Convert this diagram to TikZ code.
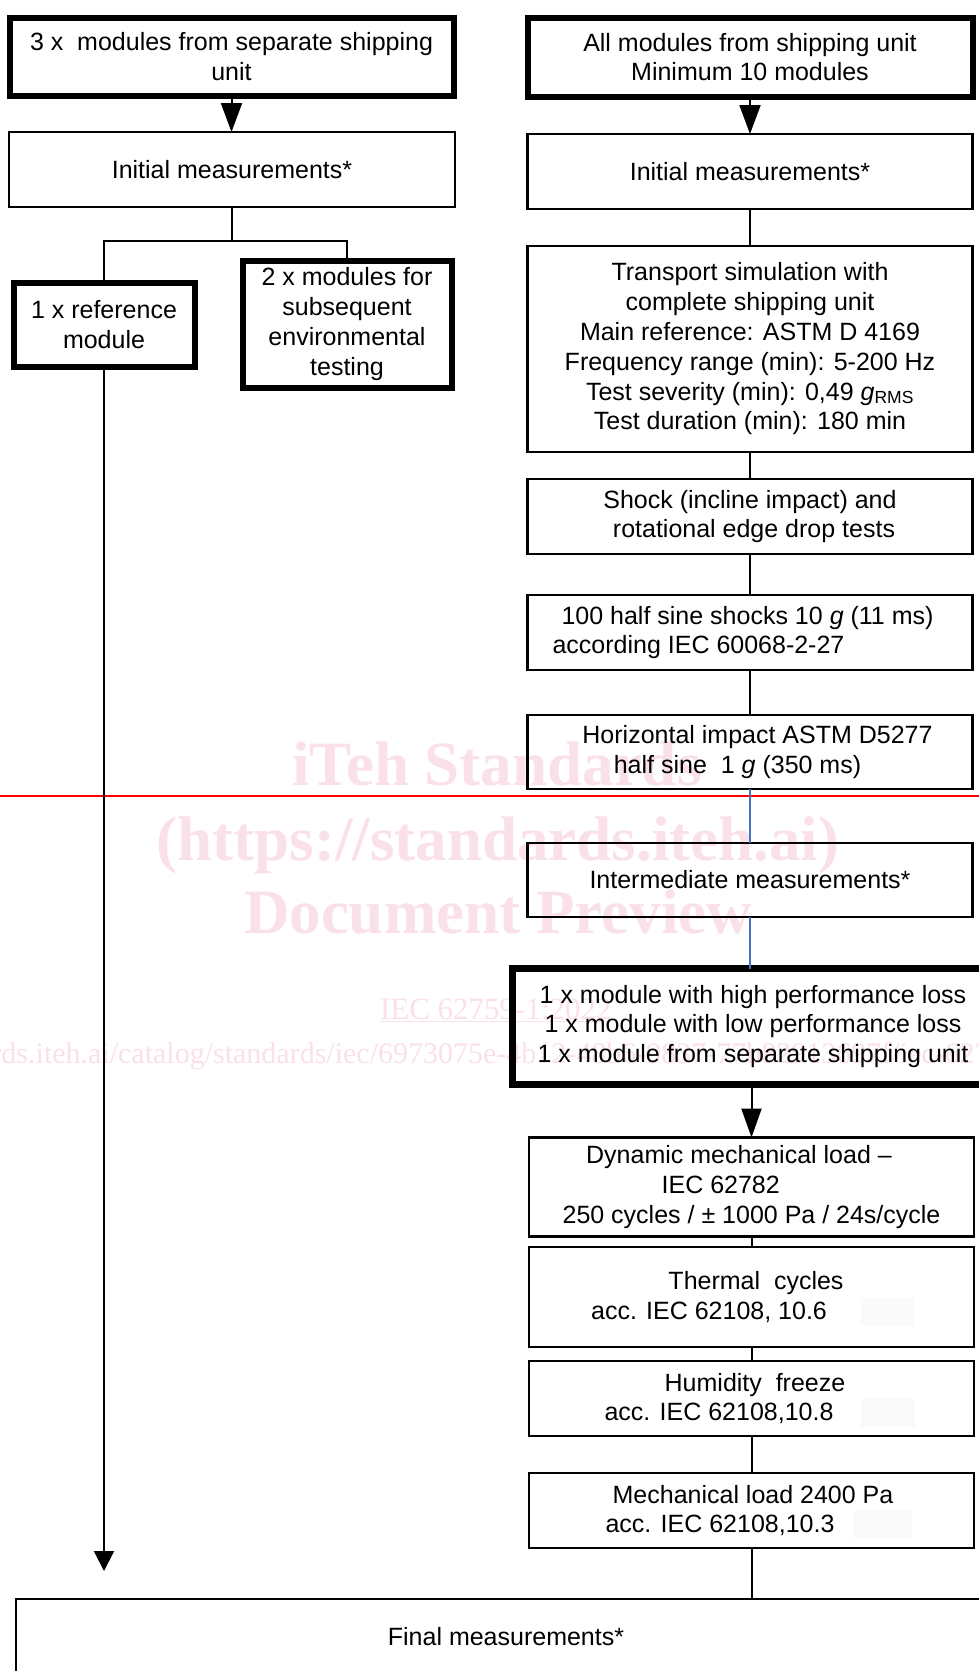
\documentclass[tikz,border=0pt]{standalone}
\usepackage{fontspec}
\setmainfont{Liberation Sans}
\newfontfamily\wmfont{Liberation Serif}
\usetikzlibrary{arrows.meta}
\newcommand\shl[2]{\hspace*{-#1}#2\hspace*{#1}}
\definecolor{wmpink}{RGB}{250,225,232}
\definecolor{connblue}{RGB}{70,114,196}
\begin{document}
\begin{tikzpicture}[x=1pt,y=-1pt,
  every node/.style={inner sep=0pt,outer sep=0pt,align=center,
    font=\fontsize{25}{29.8}\selectfont},
  thinbox/.style 2 args={draw,line width=2.2pt,minimum width=#1,minimum height=#2},
  thickbox/.style 2 args={draw,line width=6pt,minimum width=#1,minimum height=#2},
  conn/.style={line width=2pt},
  blueconn/.style={line width=1.6pt,draw=connblue},
  bigtip/.style={-{Triangle[length=29pt,width=21pt]}},
  smalltip/.style={-{Triangle[length=20pt,width=20pt]}},
  wmbig/.style={text=wmpink,font=\wmfont\bfseries\fontsize{63}{63}\selectfont,anchor=base},
  wmsmall/.style={text=wmpink},
]
\path[use as bounding box] (0,0) rectangle (979,1671);
\clip (0,0) rectangle (979,1671);
\fill[white] (0,0) rectangle (979,1671);

% watermark (behind)
\node[wmbig] (wm1) at (497,785) {iTeh Standards};
\node[wmbig] (wm2) at (498,860) {(https://standards.iteh.ai)};
\node[wmbig] (wm3) at (498,933) {Document Preview};
\node[wmsmall,anchor=base west,font=\wmfont\fontsize{31}{31}\selectfont] (wm4) at (380,1019) {\underline{IEC 62759-1:2022}};
\node[wmsmall,anchor=base west,font=\wmfont\fontsize{30}{30}\selectfont] (wm5) at (378,1063) {\llap{https://standards.iteh.ai/catalog/standards/iec/}6973075e-4b12-48b6-9837-77b82913697f/iec-62759-1-2022};

% red line
\draw[red,line width=2pt] (0,795.5) -- (979,795.5);

% left column
\node[thickbox={444pt}{78pt}] (A) at (231.5,56.5) {3 x\ \ modules from separate shipping\\unit};
\node[thinbox={446pt}{75pt}] (initL) at (232,169.5) {Initial measurements*};
\node[thickbox={181pt}{84pt}] (ref1) at (104,324.5) {1 x reference\\module};
\node[thickbox={209pt}{127pt}] (two) at (347,324) {2 x modules for\\subsequent\\environmental\\testing};
\coordinate (split) at (232,241);
\coordinate (leftend) at (104,1571);

% right column
\node[thickbox={445pt}{79pt}] (B) at (750,57) {All modules from shipping unit\\Minimum 10 modules};
\node[thinbox={445pt}{75pt}] (initR) at (750,171.5) {Initial measurements*};
\node[thinbox={445pt}{206pt}] (trans) at (750,349) {Transport simulation with\\complete shipping unit\\Main reference: ASTM D 4169\\Frequency range (min): 5-200 Hz\\Test severity (min): 0,49 \textit{g}\textsubscript{RMS}\\Test duration (min): 180 min};
\node[thinbox={445pt}{75pt}] (shock) at (750,516.5) {Shock (incline impact) and\\\shl{-4pt}{rotational edge drop tests}};
\node[thinbox={445pt}{75pt}] (half) at (750,632.5) {\shl{2.5pt}{100 half sine shocks 10 \textit{g} (11 ms)}\\\shl{51.5pt}{according IEC 60068-2-27}};
\node[thinbox={445pt}{74pt}] (horiz) at (750,752) {\shl{-7.5pt}{Horizontal impact ASTM D5277}\\\shl{12.5pt}{half sine\ \ 1 \textit{g} (350 ms)}};
\node[thinbox={445pt}{74pt}] (inter) at (750,880) {Intermediate measurements*};
\node[thickbox={481pt}{116pt},line width=7pt] (mod3) at (753,1026.5) {1 x module with high performance loss\\1 x module with low performance loss\\1 x module from separate shipping unit};
\node[thinbox={445pt}{99pt}] (dyn) at (751.5,1187) {\shl{12.5pt}{Dynamic mechanical load –}\\\shl{61.5pt}{IEC 62782}\\250 cycles / ± 1000 Pa / 24s/cycle};
\node[thinbox={445pt}{100pt}] (therm) at (751.5,1297) {\shl{-4.5pt}{Thermal\ \ cycles}\\\shl{42.5pt}{acc. IEC 62108, 10.6}};
\node[thinbox={445pt}{75pt}] (humid) at (751.5,1398.5) {\shl{-3.5pt}{Humidity\ \ freeze}\\\shl{32.5pt}{acc. IEC 62108,10.8}};
\node[thinbox={445pt}{75pt}] (mech) at (751.5,1510.5) {\shl{-1.5pt}{Mechanical load 2400 Pa}\\\shl{31.5pt}{acc. IEC 62108,10.3}};
\node[thinbox={980pt}{76pt}] (final) at (506,1637) {Final measurements*};

% faint patches
\fill[black!2] (861,1298) rectangle (914,1325);
\fill[black!2] (861,1399) rectangle (915,1427);
\fill[black!2] (853,1511) rectangle (912,1538);

% connectors left
\draw[conn,bigtip] (A.south) -- (A.south |- initL.north);
\draw[conn] (initL.south) -- (split);
\draw[conn] (ref1.north) |- (split) -| (two.north);
\draw[conn,smalltip] (ref1.south) -- (leftend);

% connectors right
\draw[conn,bigtip] (B.south) -- (initR.north);
\draw[conn] (initR.south) -- (trans.north);
\draw[conn] (trans.south) -- (shock.north);
\draw[conn] (shock.south) -- (half.north);
\draw[conn] (half.south) -- (horiz.north);
\draw[blueconn] (horiz.south) -- (inter.north);
\draw[blueconn] (inter.south) -- (inter.south |- mod3.north);
\draw[conn,-{Triangle[length=29pt,width=20pt]}] (dyn.north |- mod3.south) -- (dyn.north);
\draw[conn] (dyn.south) -- (therm.north);
\draw[conn] (therm.south) -- (humid.north);
\draw[conn] (humid.south) -- (mech.north);
\draw[conn] (mech.south) -- (mech.south |- final.north);
\end{tikzpicture}
\end{document}
